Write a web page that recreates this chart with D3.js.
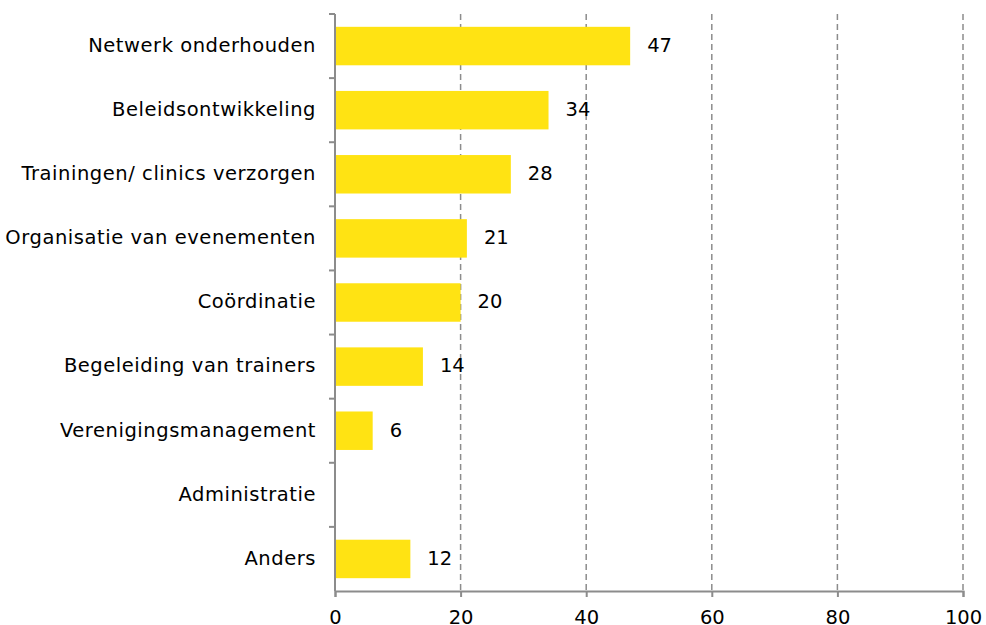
<!DOCTYPE html>
<html>
<head>
<meta charset="utf-8">
<script src="https://cdn.jsdelivr.net/npm/d3@7"></script>
<style>
  html, body { margin: 0; padding: 0; background: #fff; }
  svg { display: block; }
  text { font-family: "DejaVu Sans", "Noto Sans", sans-serif; fill: #000; }
</style>
</head>
<body>
<svg id="chart" width="986" height="625"></svg>
<script>
// Taken up roles, share in percent
const categories = [
  "Netwerk onderhouden",
  "Beleidsontwikkeling",
  "Trainingen/ clinics verzorgen",
  "Organisatie van evenementen",
  "Coördinatie",
  "Begeleiding van trainers",
  "Verenigingsmanagement",
  "Administratie",
  "Anders"
];
const values = [47, 34, 28, 21, 20, 14, 6, null, 12];
const xTicks = [0, 20, 40, 60, 80, 100];

const svg = d3.select("#chart");
const margin = { left: 335, right: 23, top: 14, bottom: 34 };
const W = 986, H = 625;
const fontSize = 19.5;

const x = d3.scaleLinear().domain([0, 100]).range([margin.left, W - margin.right]);
const y = d3.scaleBand().domain(categories).range([margin.top, H - margin.bottom]).paddingInner(0.4).paddingOuter(0.2);
const yEdges = d3.scaleBand().domain(categories).range([margin.top, H - margin.bottom]);

const axisColor = "#8c8c8c";

// dashed vertical gridlines
svg.append("g")
  .selectAll("line")
  .data(xTicks.filter(d => d > 0))
  .join("line")
  .attr("x1", d => x(d)).attr("x2", d => x(d))
  .attr("y1", margin.top).attr("y2", H - margin.bottom)
  .attr("stroke", axisColor)
  .attr("stroke-width", 1.5)
  .attr("stroke-dasharray", "6,4");

// bars
const data = categories.map((c, i) => ({ cat: c, v: values[i] }));
svg.append("g")
  .selectAll("rect")
  .data(data.filter(d => d.v != null))
  .join("rect")
  .attr("x", x(0))
  .attr("y", d => y(d.cat))
  .attr("width", d => x(d.v) - x(0))
  .attr("height", y.bandwidth())
  .attr("fill", "#ffe313");

// value labels
svg.append("g")
  .selectAll("text")
  .data(data.filter(d => d.v != null))
  .join("text")
  .attr("x", d => x(d.v) + 17)
  .attr("y", d => y(d.cat) + y.bandwidth() / 2)
  .attr("dy", "0.3em")
  .attr("font-size", fontSize)
  .text(d => d.v);

// y axis with category ticks at band edges
const gy = svg.append("g");
gy.append("line")
  .attr("x1", x(0)).attr("x2", x(0))
  .attr("y1", margin.top).attr("y2", H - margin.bottom)
  .attr("stroke", axisColor).attr("stroke-width", 2);
gy.selectAll("line.tick")
  .data(categories)
  .join("line")
  .attr("class", "tick")
  .attr("x1", x(0) - 6).attr("x2", x(0))
  .attr("y1", d => yEdges(d)).attr("y2", d => yEdges(d))
  .attr("stroke", axisColor).attr("stroke-width", 2);
gy.selectAll("text")
  .data(categories)
  .join("text")
  .attr("x", x(0) - 19)
  .attr("y", d => yEdges(d) + yEdges.bandwidth() / 2)
  .attr("dy", "0.3em")
  .attr("text-anchor", "end")
  .attr("font-size", fontSize)
  .attr("letter-spacing", "0.55px")
  .text(d => d);

// x axis
const xAxis = d3.axisBottom(x).tickValues(xTicks).tickSize(6).tickPadding(13).tickFormat(d3.format("d"));
const gx = svg.append("g")
  .attr("transform", `translate(0,${H - margin.bottom})`)
  .call(xAxis);
gx.select(".domain").attr("stroke", axisColor).attr("stroke-width", 2);
gx.selectAll(".tick line").attr("stroke", axisColor).attr("stroke-width", 2);
gx.selectAll(".tick text")
  .attr("font-size", fontSize)
  .attr("font-family", "\"DejaVu Sans\", \"Noto Sans\", sans-serif")
  .attr("fill", "#000");
</script>
</body>
</html>
